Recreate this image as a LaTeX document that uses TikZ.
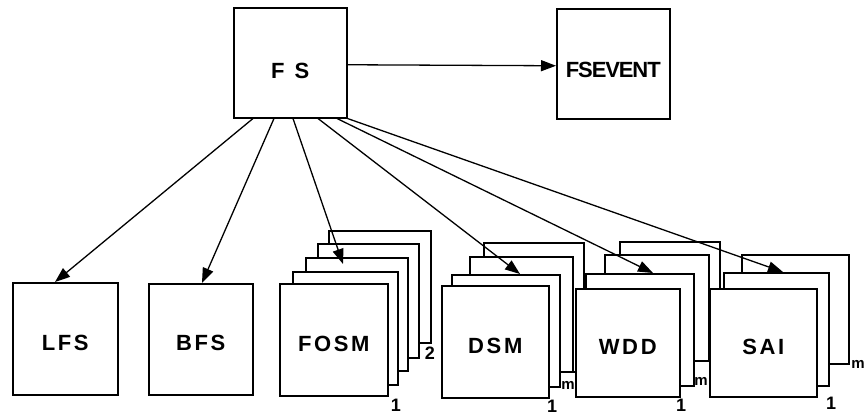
\documentclass[tikz,border=0pt]{standalone}
\usepackage{fontspec}
\setmainfont{Liberation Sans}
\usetikzlibrary{arrows.meta}
\newcommand\boxat[6]{\node[box, minimum width={(#4-#2)*1pt}, minimum height={(#5-#3)*1pt}] (#1) at (#2,#3) {#6};}
\newcommand\lbl[1]{\raisebox{-4pt}[\height][\depth]{\addfontfeatures{LetterSpace=12}#1}}
\begin{document}
\begin{tikzpicture}[x=1pt,y=-1pt,
  box/.style={draw, fill=white, line width=1.5pt, inner sep=0pt, anchor=north west,
              font=\fontsize{22}{22}\selectfont\bfseries},
  arr/.style={line width=1.3pt, -{Triangle[length=15pt,width=11pt]}},
  num/.style={font=\fontsize{18}{18}\selectfont\bfseries, inner sep=0pt},
  mlab/.style={font=\fontsize{15}{15}\selectfont\bfseries, inner sep=0pt}]
\useasboundingbox[fill=white] (0,0) rectangle (865,416);

% top row
\boxat{fs}{233}{7}{346}{117}{\raisebox{-8pt}[\height][\depth]{F\hspace{10pt}S}}
\boxat{fsev}{556}{8}{669}{118}{\raisebox{-6pt}[\height][\depth]{\addfontfeatures{LetterSpace=-5}FSEVENT}}

% single boxes
\boxat{lfs}{12}{282}{117}{394}{\lbl{LFS}}
\boxat{bfs}{148}{283}{252}{394}{\lbl{BFS}}

% FOSM stack
\boxat{fosm5}{328}{230}{430}{342}{}
\boxat{fosm4}{317}{243}{418}{357}{}
\boxat{fosm3}{305}{257}{407}{370}{}
\boxat{fosm2}{292}{271}{397}{384}{}
\boxat{fosm}{279}{283}{387}{395}{\lbl{FOSM}}

% DSM stack
\boxat{dsm4}{483}{242}{583}{371}{}
\boxat{dsm3}{469}{256}{572}{371}{}
\boxat{dsm2}{451}{274}{559}{386}{}
\boxat{dsm}{441}{285}{548}{397}{\lbl{DSM}}

% WDD stack
\boxat{wdd4}{619}{241}{719}{360}{}
\boxat{wdd3}{604}{254}{708}{360}{}
\boxat{wdd2}{585}{273}{693}{385}{}
\boxat{wdd}{575}{288}{679}{396}{\lbl{WDD}}

% SAI stack
\boxat{sai3}{741}{254}{848}{363}{}
\boxat{sai2}{723}{272}{828}{385}{}
\boxat{sai}{709}{288}{816}{396}{\lbl{SAI}}

% connectors
\draw[arr] ([yshift=-2pt]fs.east) -- ([yshift=-2pt]fsev.west);
\draw[arr] ([xshift=20pt]fs.south west) -- ([xshift=43pt]lfs.north west);
\draw[arr] ([xshift=41pt]fs.south west) -- ([xshift=54pt]bfs.north west);
\draw[arr] ([xshift=60pt]fs.south west) -- ([xshift=38pt,yshift=-7pt]fosm3.north west);
\draw[arr] ([xshift=85pt]fs.south west) -- ([xshift=69pt]dsm2.north west);
\draw[arr] ([xshift=104pt]fs.south west) -- ([xshift=68pt]wdd2.north west);
\draw[arr] (fs.south east) -- ([xshift=60pt]sai2.north west);

% multiplicities
\node[num] (n1) at (396,405) {1};
\node[num] (n2) at (430,353) {2};
\node[num] (n3) at (552,406) {1};
\node[mlab] (m1) at (568,385) {m};
\node[num] (n4) at (681,405) {1};
\node[mlab] (m2) at (701,381) {m};
\node[num] (n5) at (831,403) {1};
\node[mlab] (m3) at (858,364) {m};
\end{tikzpicture}
\end{document}
